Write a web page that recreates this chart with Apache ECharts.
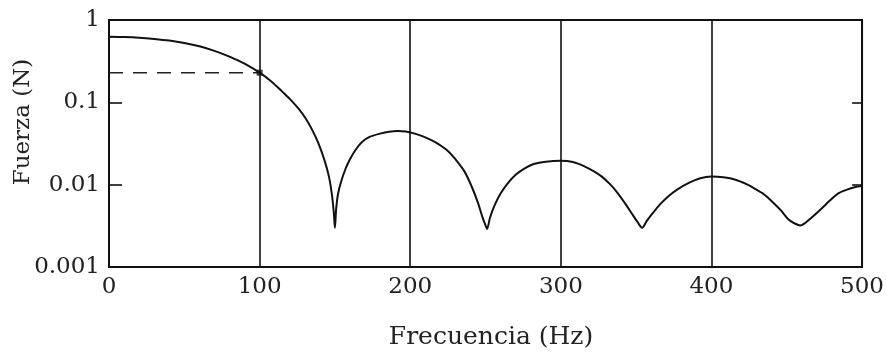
<!DOCTYPE html>
<html><head><meta charset="utf-8">
<script src="https://cdn.jsdelivr.net/npm/echarts@6/dist/echarts.min.js"></script>
<style>html,body{margin:0;padding:0;background:#fff}#c{width:887px;height:354px}</style>
</head><body><div id="c"></div>
<script>
var freq = [0,10,20,30,40,50,60,70,80,90,100,108,115,120,126,131,135,139,143,146,148,149.3,150,150.8,152,154,157,160,164,168,173,180,186,192,197,203,208,214,219,225,230,236,241,245,248,250,251,253,256,260,265,270,276,282,290,300,308,316,322,327,333,338,343,347,351,354,357,361,366,372,378,385,392,400,408,416,423,429,435,440,446,451,455,459,462,466,473,479,484,490,495,500];
var force = [0.627,0.622,0.61,0.589,0.562,0.525,0.479,0.422,0.359,0.295,0.229,0.178,0.135,0.11,0.083,0.062,0.046,0.032,0.020,0.0126,0.0076,0.0045,0.003,0.005,0.0076,0.0107,0.0155,0.0204,0.0269,0.033,0.038,0.0417,0.044,0.0447,0.0442,0.0417,0.0389,0.0347,0.0309,0.0257,0.0204,0.0145,0.0093,0.006,0.004,0.0032,0.0029,0.004,0.0056,0.0078,0.0105,0.0132,0.0158,0.0178,0.019,0.0195,0.0188,0.0166,0.0145,0.0126,0.010,0.0078,0.0058,0.0045,0.0035,0.003,0.0036,0.0045,0.0058,0.0074,0.0089,0.0105,0.0119,0.0126,0.0123,0.0115,0.0102,0.0089,0.0076,0.0063,0.0049,0.0038,0.0034,0.0032,0.0034,0.0039,0.0051,0.0065,0.0078,0.0087,0.0093,0.0096];
var refFreq = [0,100];
var refForce = [0.229,0.229];
var xTicks = [0,100,200,300,400,500];
var yTicks = ['0.001','0.01','0.1','1'];
var xName = 'Frecuencia (Hz)';
var yName = 'Fuerza (N)';

var font = '"DejaVu Serif", "Liberation Serif", serif';
var chart = echarts.init(document.getElementById('c'), null, {renderer:'canvas'});
chart.setOption({
  animation:false,
  backgroundColor:'#fff',
  grid:{left:109,right:23,top:20,bottom:87,show:true,borderColor:'#111',borderWidth:2,backgroundColor:'transparent'},
  graphic:[
    {type:'text',x:23,y:122,rotation:Math.PI/2,
     style:{text:yName,font:'23px "DejaVu Serif", serif',fill:'#222',align:'center',verticalAlign:'middle'}},
    {type:'text',x:491,y:337,
     style:{text:xName,font:'25px "DejaVu Serif", serif',fill:'#222',align:'center',verticalAlign:'middle'}}
  ],
  xAxis:{type:'value',min:0,max:500,interval:100,
    axisLine:{show:true,lineStyle:{color:'#111',width:2}},
    axisTick:{show:false},
    axisLabel:{fontFamily:font,fontSize:23,color:'#222',margin:9,formatter:function(v){return xTicks.indexOf(v)>=0?String(v):'';}},
    splitLine:{show:true,lineStyle:{color:'#111',width:1.6}}},
  yAxis:[{type:'log',logBase:10,min:0.001,max:1,
    axisLine:{show:true,lineStyle:{color:'#111',width:2}},
    axisTick:{show:true,inside:true,length:13,lineStyle:{color:'#111',width:1.6}},
    axisLabel:{fontFamily:font,fontSize:23,color:'#222',margin:9,formatter:function(v){
      var i = Math.round(Math.log10(v))+3;return yTicks[i]||'';}},
    splitLine:{show:false}},
   {type:'log',logBase:10,min:0.001,max:1,position:'right',
    axisLine:{show:true,lineStyle:{color:'#111',width:2}},
    axisTick:{show:true,inside:true,length:10,lineStyle:{color:'#111',width:1.6}},
    axisLabel:{show:false},splitLine:{show:false}}],
  series:[
    {type:'line',data:freq.map(function(f,i){return [f,force[i]];}),
     showSymbol:false,smooth:0.3,lineStyle:{color:'#111',width:2},z:3},
    {type:'line',data:refFreq.map(function(f,i){return [f,refForce[i]];}),
     showSymbol:false,lineStyle:{color:'#222',width:1.6,type:[14,10]},z:2},
    {type:'scatter',data:[[refFreq[1],refForce[1]]],symbol:'rect',symbolSize:6,itemStyle:{color:'#111'},z:4}
  ]
});
</script></body></html>
